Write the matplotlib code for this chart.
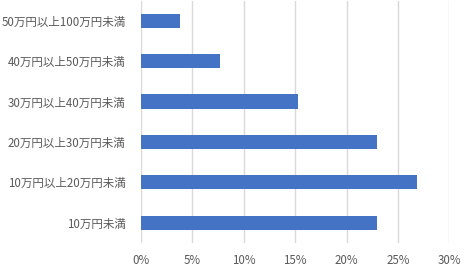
import matplotlib
matplotlib.use("Agg")
import matplotlib.pyplot as plt
from matplotlib.ticker import FuncFormatter, MultipleLocator

plt.rcParams['font.family'] = ['Noto Sans CJK JP', 'DejaVu Sans']

categories = ["10万円未満", "10万円以上20万円未満", "20万円以上30万円未満",
              "30万円以上40万円未満", "40万円以上50万円未満", "50万円以上100万円未満"]
values = [23.0, 26.9, 23.0, 15.3, 7.7, 3.8]

fig = plt.figure(figsize=(4.72, 2.69), dpi=100)
ax = fig.add_axes([0.2987, 0.0967, 0.6533, 0.9013])

ax.barh(range(len(categories)), values, height=0.35, color="#4472C4", zorder=3)
ax.set_yticks(range(len(categories)))
ax.set_yticklabels(categories)
ax.set_ylim(-0.5, len(categories) - 0.5)
ax.set_xlim(0, 30)
ax.xaxis.set_major_locator(MultipleLocator(5))
ax.xaxis.set_major_formatter(FuncFormatter(lambda v, p: f"{v:.0f}%"))
ax.grid(axis="x", color="#D9D9D9", linewidth=1, zorder=0)
for s in ax.spines.values():
    s.set_visible(False)
ax.tick_params(length=0, labelsize=8.3, labelcolor="#595959")
ax.tick_params(axis="y", pad=11)
ax.tick_params(axis="x", pad=8)

fig.savefig("out.png", dpi=100)
